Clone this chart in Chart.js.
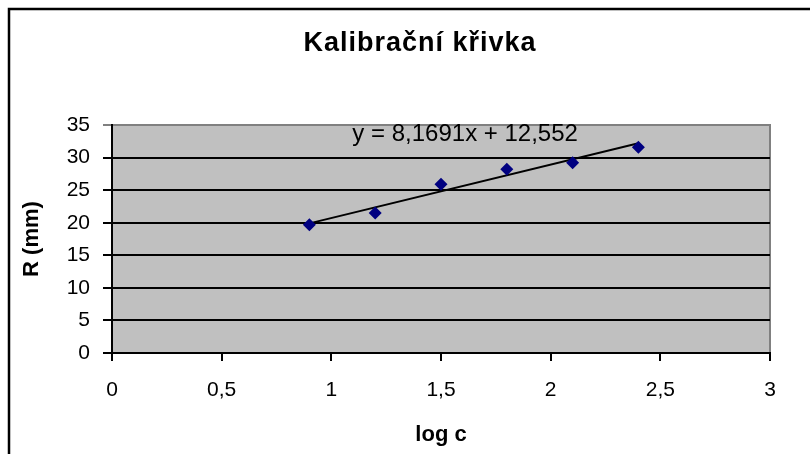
<!DOCTYPE html>
<html>
<head>
<meta charset="utf-8">
<script src="https://cdn.jsdelivr.net/npm/chart.js@4.4.0/dist/chart.umd.min.js"></script>
<style>
    html, body { margin: 0; padding: 0; background: #ffffff; }
</style>
</head>
<body>
<canvas id="kalibrace" width="810" height="454"></canvas>
<script>
// values
const logC = [0.9, 1.2, 1.5, 1.8, 2.1, 2.4];
const radiusMm = [19.7, 21.5, 25.9, 28.2, 29.2, 31.6];
const trendX = [0.9, 2.4];
const trendY = [19.9, 32.2];
const xTicks = [0, 0.5, 1, 1.5, 2, 2.5, 3];
const yTicks = [0, 5, 10, 15, 20, 25, 30, 35];
const chartTitle = 'Kalibrační křivka';
const equationText = 'y = 8,1691x + 12,552';
const equationAt = [1.61, 33.5];

const FONT = '"Liberation Sans", Arial, sans-serif';

function toPoints(xs, ys) {
    return xs.map((x, i) => ({ x: x, y: ys[i] }));
}

function commaLabel(value) {
    return String(value).replace('.', ',');
}

//------------------------------ frame, plot background, title ------------------------------//
const excelLook = {
    id: 'excelLook',
    beforeDraw(chart) {
        const { ctx, chartArea: a } = chart;
        ctx.save();
        ctx.fillStyle = '#ffffff';
        ctx.fillRect(0, 0, chart.width, chart.height);

        ctx.fillStyle = '#c0c0c0';
        ctx.fillRect(a.left, a.top, a.right - a.left, a.bottom - a.top);
        ctx.strokeStyle = '#808080';
        ctx.lineWidth = 2;
        ctx.beginPath();
        ctx.moveTo(a.left, a.top);
        ctx.lineTo(a.right, a.top);
        ctx.lineTo(a.right, a.bottom);
        ctx.stroke();

        // outer chart frame (cut off on the right and bottom)
        ctx.strokeStyle = '#000000';
        ctx.lineWidth = 2.5;
        ctx.beginPath();
        ctx.moveTo(9, chart.height);
        ctx.lineTo(9, 9);
        ctx.lineTo(chart.width, 9);
        ctx.stroke();

        ctx.fillStyle = '#000000';
        ctx.font = 'bold 27px ' + FONT;
        ctx.letterSpacing = '1px';
        ctx.textAlign = 'center';
        ctx.textBaseline = 'middle';
        ctx.fillText(chartTitle, 420, 44);
        ctx.restore();
    },
    afterDatasetsDraw(chart) {
        const { ctx, scales } = chart;
        ctx.save();
        ctx.fillStyle = '#000000';
        ctx.font = '24px ' + FONT;
        ctx.textAlign = 'center';
        ctx.textBaseline = 'middle';
        ctx.fillText(equationText, scales.x.getPixelForValue(equationAt[0]), scales.y.getPixelForValue(equationAt[1]));
        ctx.restore();
    }
};

new Chart(document.getElementById('kalibrace'), {
    type: 'scatter',
    data: {
        datasets: [
            {
                label: 'R',
                data: toPoints(logC, radiusMm),
                pointStyle: 'rectRot',
                pointRadius: 6.5,
                pointHoverRadius: 6.5,
                backgroundColor: '#000080',
                borderColor: '#000080',
                borderWidth: 0,
                order: 1
            },
            {
                label: 'trend',
                type: 'line',
                data: toPoints(trendX, trendY),
                showLine: true,
                borderColor: '#000000',
                borderWidth: 2,
                pointRadius: 0,
                fill: false,
                order: 2
            }
        ]
    },
    options: {
        responsive: false,
        animation: false,
        events: [],
        layout: {
            padding: { top: 125, right: 40, left: 0, bottom: 0 }
        },
        plugins: {
            legend: { display: false },
            title: { display: false },
            tooltip: { enabled: false }
        },
        scales: {
            x: {
                type: 'linear',
                min: 0,
                max: 3,
                afterBuildTicks: (scale) => { scale.ticks = xTicks.map(v => ({ value: v })); },
                afterFit: (scale) => { scale.height = 101; },
                border: { display: true, color: '#000000', width: 2 },
                grid: {
                    drawOnChartArea: false,
                    drawTicks: true,
                    tickLength: 8,
                    color: '#000000',
                    lineWidth: 2
                },
                ticks: {
                    padding: 17,
                    color: '#000000',
                    font: { size: 21, family: FONT },
                    callback: (value) => commaLabel(value)
                },
                title: {
                    display: true,
                    text: 'log c',
                    color: '#000000',
                    font: { size: 22, weight: 'bold', family: FONT },
                    padding: 6
                }
            },
            y: {
                type: 'linear',
                min: 0,
                max: 35,
                afterBuildTicks: (scale) => { scale.ticks = yTicks.map(v => ({ value: v })); },
                afterFit: (scale) => { scale.width = 112; },
                border: { display: true, color: '#000000', width: 2 },
                grid: {
                    drawOnChartArea: true,
                    drawTicks: true,
                    tickLength: 9,
                    color: (c) => (c.tick && c.tick.value === 35 ? '#808080' : '#000000'),
                    lineWidth: 2
                },
                ticks: {
                    padding: 13,
                    color: '#000000',
                    font: { size: 21, family: FONT },
                    callback: (value) => commaLabel(value)
                },
                title: {
                    display: true,
                    text: 'R (mm)',
                    color: '#000000',
                    font: { size: 22, weight: 'bold', family: FONT },
                    padding: 19
                }
            }
        }
    },
    plugins: [excelLook]
});
</script>
</body>
</html>
